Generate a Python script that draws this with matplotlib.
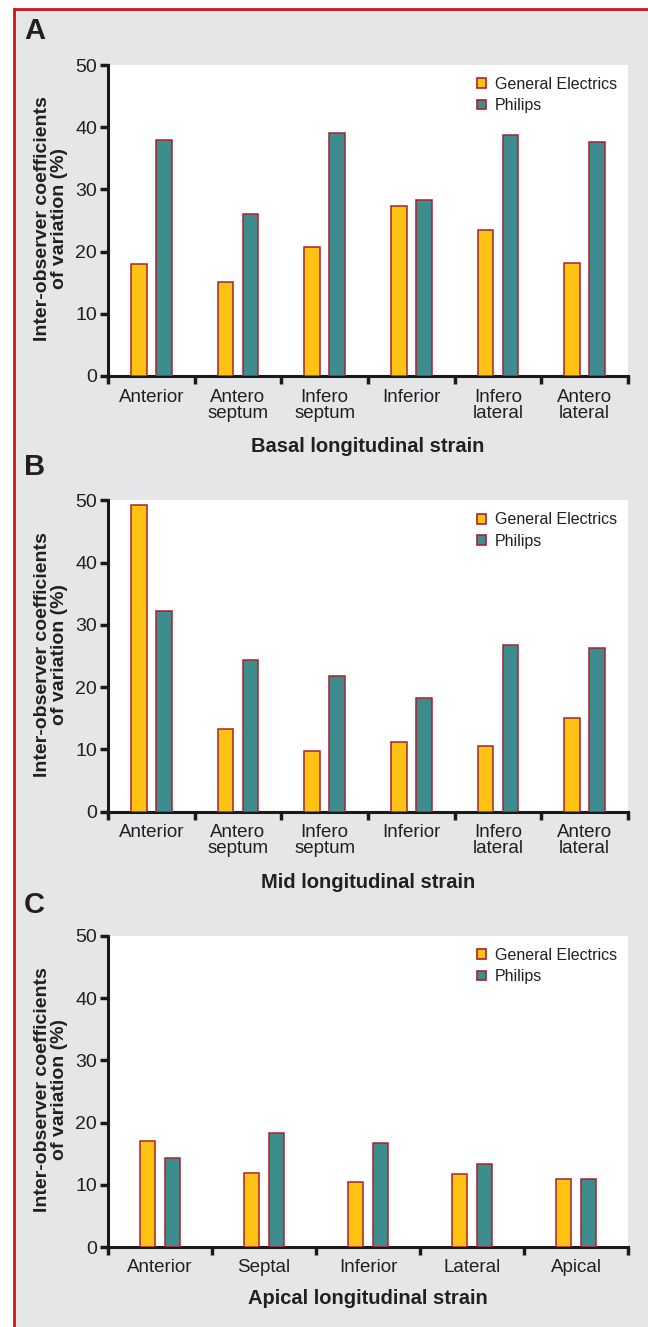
import matplotlib
matplotlib.use("Agg")
import matplotlib.pyplot as plt
from matplotlib.patches import Rectangle
import numpy as np

plt.rcParams['font.family'] = ['Liberation Sans', 'DejaVu Sans']

# ---- data ----
segments_six = ["Anterior", "Antero\nseptum", "Infero\nseptum", "Inferior", "Infero\nlateral", "Antero\nlateral"]
segments_apical = ["Anterior", "Septal", "Inferior", "Lateral", "Apical"]

basal_ge = [18.0, 15.1, 20.8, 27.4, 23.5, 18.1]
basal_philips = [37.9, 26.0, 39.1, 28.3, 38.8, 37.6]

mid_ge = [49.3, 13.2, 9.8, 11.1, 10.6, 15.1]
mid_philips = [32.2, 24.3, 21.8, 18.3, 26.7, 26.3]

apical_ge = [17.1, 11.9, 10.5, 11.7, 10.9]
apical_philips = [14.3, 18.4, 16.7, 13.3, 11.0]

panel_letters = ["A", "B", "C"]
panel_titles = ["Basal longitudinal strain", "Mid longitudinal strain", "Apical longitudinal strain"]
series_names = ["General Electrics", "Philips"]
yticks = [0, 10, 20, 30, 40, 50]
ylabel = "Inter-observer coefficients\nof variation (%)"

# ---- style ----
GE_COLOR = "#fec312"
PH_COLOR = "#3f8c8e"
EDGE = "#a8222f"
BG = "#e5e6e8"
BORDER = "#c8141e"
TEXT = "#231f20"

W, H = 648, 1327
fig = plt.figure(figsize=(W / 100, H / 100), dpi=100)
fig.patch.set_facecolor("white")

# grey panel with red frame on the left and top
frame = Rectangle((14 / W, -0.01), 1.05, 1 - 9 / H + 0.01,
                  transform=fig.transFigure, facecolor=BG,
                  edgecolor=BORDER, linewidth=2.0, zorder=-10)
fig.patches.append(frame)

# (categories, GE values, Philips values, axis bottom px, title centre px, letter centre px)
panels = [
    (segments_six, basal_ge, basal_philips, 376, 446, 31),
    (segments_six, mid_ge, mid_philips, 811.5, 882, 467),
    (segments_apical, apical_ge, apical_philips, 1247, 1298, 905),
]

ax_left = 108 / W
ax_width = (628 - 108) / W
ax_height_px = 311

for i, (cats, ge, ph, bottom_px, title_px, letter_px) in enumerate(panels):
    ax = fig.add_axes([ax_left, 1 - bottom_px / H, ax_width, ax_height_px / H])
    ax.set_zorder(1)
    ax.set_facecolor("white")
    n = len(cats)
    x = np.arange(n)
    cat_px = (628 - 108) / n
    offset = 12.5 / cat_px
    width = 15.5 / cat_px

    ax.bar(x - offset, ge, width=width, color=GE_COLOR, edgecolor=EDGE,
           linewidth=1.1, zorder=3, label=series_names[0])
    ax.bar(x + offset, ph, width=width, color=PH_COLOR, edgecolor=EDGE,
           linewidth=1.1, zorder=3, label=series_names[1])

    ax.set_xlim(-0.5, n - 0.5)
    ax.set_ylim(0, 50)
    ax.set_yticks(yticks)
    ax.set_yticklabels([str(t) for t in yticks], fontsize=14, color=TEXT)

    # category names centred, ticks at category boundaries
    ax.set_xticks(np.arange(n + 1) - 0.5)
    ax.set_xticklabels([])
    ax.set_xticks(x, minor=True)
    ax.set_xticklabels(cats, minor=True, fontsize=13.5, color=TEXT,
                       linespacing=0.95, va="top")
    ax.tick_params(axis="x", which="minor", length=0, pad=9)
    ax.tick_params(axis="x", which="major", length=6, width=2.5, color="#1a1a1a")
    ax.tick_params(axis="y", length=6, width=2.5, color="#1a1a1a", pad=2)

    for side in ("top", "right"):
        ax.spines[side].set_visible(False)
    for side in ("left", "bottom"):
        ax.spines[side].set_linewidth(2.2)
        ax.spines[side].set_color("#1a1a1a")

    ax.set_ylabel(ylabel, fontsize=14, fontweight="bold", linespacing=1.0,
                  color=TEXT)
    ax.yaxis.set_label_coords(-0.076, 0.505)

    fig.text(368 / W, 1 - title_px / H, panel_titles[i], fontsize=14.5,
             fontweight="bold", color=TEXT, ha="center", va="center")

    handles = [Rectangle((0, 0), 1, 1, facecolor=GE_COLOR, edgecolor=EDGE, linewidth=1.2),
               Rectangle((0, 0), 1, 1, facecolor=PH_COLOR, edgecolor=EDGE, linewidth=1.2)]
    leg = ax.legend(handles, series_names, loc="upper left",
                    bbox_to_anchor=((474 - 108) / 520, 0.972), frameon=False, fontsize=11.5,
                    handlelength=0.55, handleheight=0.55, handletextpad=0.55,
                    labelspacing=0.4, borderaxespad=0.0, borderpad=0.2)
    for t in leg.get_texts():
        t.set_color(TEXT)

    fig.text(24 / W, 1 - letter_px / H, panel_letters[i], fontsize=21,
             fontweight="bold", color=TEXT, va="center", ha="left")

fig.savefig("out.png", dpi=100, facecolor=fig.get_facecolor())
